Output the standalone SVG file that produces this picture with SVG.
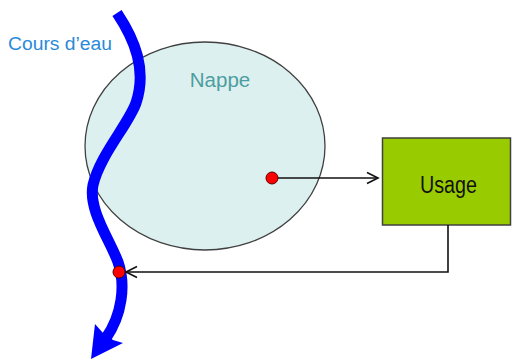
<svg xmlns="http://www.w3.org/2000/svg" width="512" height="360" viewBox="0 0 512 360">
<style>
.lbl{font-family:"Liberation Sans",Arial,sans-serif}
.conn{fill:none;stroke:#111;stroke-width:1.6}
.dot{fill:#ff0000;stroke:#500;stroke-width:1}
</style>
<defs>
<marker id="arr" markerUnits="userSpaceOnUse" markerWidth="14" markerHeight="14" refX="12" refY="7" orient="auto">
<path d="M1,1.5 L12,7 L1,12.5" fill="none" stroke="#111" stroke-width="1.6"/>
</marker>
</defs>
<rect width="512" height="360" fill="#fff"/>
<g id="nappe">
<ellipse cx="205" cy="146" rx="120" ry="104" fill="#ddf0f0" stroke="#404040" stroke-width="1.3"/>
<text class="lbl" x="220" y="87" font-size="20.5" fill="#4d9ea0" text-anchor="middle">Nappe</text>
</g>
<g id="cours-eau">
<path d="M117,13 C135,40 147,70 136,103 C128,125 100,155 93,185 C88,210 110,240 118,262 C126,285 122,315 106,338" fill="none" stroke="#0000ff" stroke-width="11"/>
<polygon points="91,359 95,324 103,333 113,340 123,343" fill="#0000ff"/>
<text class="lbl" x="8" y="50" font-size="18" fill="#2b8ad8" textLength="104" lengthAdjust="spacingAndGlyphs">Cours d’eau</text>
</g>
<g id="usage">
<rect x="382.5" y="138" width="128" height="87" fill="#99cc00" stroke="#404040" stroke-width="1.5"/>
<text class="lbl" x="420" y="192.5" font-size="23" fill="#111" textLength="57" lengthAdjust="spacingAndGlyphs">Usage</text>
</g>
<g id="connectors">
<line class="conn" x1="272" y1="178" x2="378" y2="178" marker-end="url(#arr)"/>
<polyline class="conn" points="448,225 448,272 126,272" marker-end="url(#arr)"/>
</g>
<g id="points">
<circle class="dot" cx="272" cy="178" r="6"/>
<circle class="dot" cx="119" cy="272" r="6"/>
</g>
</svg>
